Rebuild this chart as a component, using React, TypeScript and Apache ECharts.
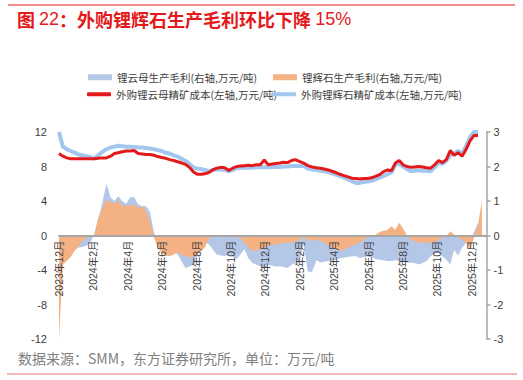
import React, { useEffect, useRef } from "react";
import * as echarts from "echarts";

// ---------- texts ----------
const TITLE_PREFIX = "图 ";
const TITLE_NUM = "22";
const TITLE_MAIN = "：外购锂辉石生产毛利环比下降 ";
const TITLE_PCT = "15%";
const SOURCE_TEXT = "数据来源：SMM，东方证券研究所，单位：万元/吨";

const NAME_LEPI_MARGIN = "锂云母生产毛利(右轴,万元/吨)";
const NAME_SPOD_MARGIN = "锂辉石生产毛利(右轴,万元/吨)";
const NAME_LEPI_COST = "外购锂云母精矿成本(左轴,万元/吨)";
const NAME_SPOD_COST = "外购锂辉石精矿成本(左轴,万元/吨)";

// ---------- axes ----------
const START_YEAR = 2023;
const START_MONTH = 12; // data starts 2023-12-01, weekly observations
const WEEK_COUNT = 108;
const X_MAX_MONTHS = 24.85;
const X_LABEL_STEP_MONTHS = 2;
const LEFT_MIN = -12, LEFT_MAX = 12, LEFT_STEP = 4;
const RIGHT_MIN = -3, RIGHT_MAX = 3, RIGHT_STEP = 1;

// ---------- series (万元/吨) ----------
// 外购锂辉石精矿成本 (left axis)
const spodumeneCost = [
  12.0, 10.3, 10.0, 9.8, 9.6, 9.4, 9.3, 9.2, 9.1, 8.9,
  9.3, 9.7, 10.0, 10.2, 10.3, 10.4, 10.35, 10.3, 10.3, 10.25,
  10.2, 10.2, 10.15, 10.1, 10.0, 9.9, 9.8, 9.6, 9.5, 9.3,
  9.15, 8.9, 8.65, 8.3, 7.9, 7.75, 7.7, 7.6, 7.45, 7.6,
  7.65, 7.65, 7.6, 7.45, 7.6, 7.8, 7.85, 7.85, 7.85, 7.85,
  7.9, 7.9, 7.9, 7.9, 7.95, 7.95, 7.95, 8.0, 8.0, 8.05,
  8.05, 8.05, 8.05, 7.75, 7.65, 7.6, 7.5, 7.45, 7.35, 7.2,
  7.05, 6.9, 6.7, 6.5, 6.3, 6.1, 6.1, 6.2, 6.25, 6.35,
  6.5, 6.7, 6.9, 7.1, 7.3, 8.2, 8.3, 8.0, 7.7, 7.45,
  7.5, 7.55, 7.5, 7.5, 7.45, 7.9, 8.45, 8.3, 8.7, 9.3,
  9.5, 9.8, 9.5, 10.4, 11.4, 12.0, 12.0,
];

// 外购锂云母精矿成本 (left axis)
const lepidoliteCost = [
  9.5, 9.2, 9.0, 8.9, 8.9, 8.9, 8.9, 8.9, 8.9, 8.9,
  8.95, 9.0, 9.0, 9.2, 9.5, 9.6, 9.7, 9.8, 9.8, 9.85,
  9.5, 9.45, 9.4, 9.4, 9.3, 9.15, 9.05, 8.95, 8.8, 8.7,
  8.55, 8.4, 8.25, 7.9, 7.4, 7.1, 7.1, 7.15, 7.3, 7.6,
  7.8, 7.9, 7.85, 7.55, 7.8, 8.0, 8.05, 8.1, 8.15, 8.1,
  8.2, 8.2, 8.75, 8.2, 8.3, 8.35, 8.4, 8.5, 8.45, 8.7,
  8.8, 8.6, 8.4, 8.1, 7.95, 7.85, 7.8, 7.7, 7.6, 7.45,
  7.3, 7.1, 6.95, 6.8, 6.65, 6.6, 6.55, 6.6, 6.6, 6.7,
  6.85, 7.05, 7.4, 7.6, 7.5, 8.4, 8.7, 8.2, 8.0, 7.9,
  7.95, 8.0, 7.95, 7.85, 7.8, 8.2, 8.7, 8.45, 8.8, 9.85,
  9.3, 9.6, 9.2, 10.0, 11.0, 11.6, 11.6,
];

// 锂辉石生产毛利 (right axis)
const spodumeneMargin = [
  -3.0, -0.85, -0.74, -0.62, -0.45, -0.3, -0.16, -0.08, -0.02, 0.0,
  0.5, 0.8, 1.03, 0.98, 0.92, 1.02, 0.85, 0.88, 0.86, 0.9,
  0.8, 0.85, 0.7, 0.42, -0.05, -0.35, -0.5, -0.58, -0.6, -0.55,
  -0.5, -0.55, -0.6, -0.64, -0.6, -0.55, -0.45, -0.35, -0.08, -0.04,
  -0.03, -0.04, -0.03, -0.05, -0.04, -0.05, -0.08, -0.2, -0.35, -0.45,
  -0.42, -0.4, -0.35, -0.3, -0.28, -0.26, -0.24, -0.22, -0.2, -0.2,
  -0.17, -0.16, -0.02, -0.15, -0.14, -0.12, -0.15, -0.22, -0.28, -0.34,
  -0.4, -0.45, -0.4, -0.35, -0.3, -0.25, -0.2, -0.12, -0.06, -0.03,
  0.02, 0.1, 0.14, 0.16, 0.27, 0.17, 0.37, 0.2, 0.0, -0.12,
  -0.17, -0.2, -0.21, -0.21, -0.2, -0.18, -0.13, -0.06, -0.02, 0.12,
  0.02, -0.05, -0.12, -0.21, -0.4, -0.05, 0.3, 1.0,
];

// 锂云母生产毛利 (right axis)
const lepidoliteMargin = [
  -1.2, -0.7, -0.6, -0.5, -0.42, -0.35, -0.33, -0.3, -0.22, 0.02,
  0.45, 0.95, 1.5, 1.1, 1.0, 1.14, 1.0, 0.92, 1.1, 1.12,
  0.9, 0.85, 0.85, 0.68, 0.1, -0.15, -0.3, -0.45, -0.5, -0.45,
  -0.55, -0.75, -0.94, -0.9, -0.85, -0.6, -0.4, -0.2, -0.25, -0.4,
  -0.55, -0.58, -0.6, -0.55, -0.6, -0.68, -0.55, -0.4, -0.65, -0.79,
  -0.85, -0.9, -0.97, -0.85, -0.88, -0.9, -0.89, -0.92, -0.94, -0.85,
  -0.8, -0.78, -0.25, -1.05, -1.05, -0.72, -0.78, -0.76, -0.74, -0.72,
  -0.7, -0.66, -0.64, -0.62, -0.6, -0.6, -0.65, -0.63, -0.6, -0.62,
  -0.68, -0.7, -0.72, -0.74, -0.74, -0.72, -0.74, -0.76, -0.78, -0.79,
  -0.8, -0.84, -0.8, -0.74, -0.6, -0.52, -0.5, -0.6, -0.7, -0.84,
  -0.42, -0.58, -0.35, -0.22, -0.12, 0.1, 0.37, 0.2,
];

// ---------- styles ----------
const RED = "#e3191b";
const LIGHT_BLUE = "#a3c6ee";
const AREA_BLUE = "#b4c7e7";
const AREA_ORANGE = "#f4b183";
const AXIS_GRAY = "#a6a6a6";
const TEXT = "#404040";
const CJK = "'Noto Sans CJK SC', sans-serif";
const LATIN = "'Liberation Sans', 'Noto Sans CJK SC', sans-serif";

const GRID_TOP = 132;
const GRID_BOTTOM = 41;
const CHART_H = 380;

// month position (months since 2023-12-01) of each weekly observation
const DAY_MS = 86400000;
const startMs = Date.UTC(START_YEAR, START_MONTH - 1, 1);
const weekPositions: number[] = [];
for (let i = 0; i < WEEK_COUNT; i++) {
  const d = new Date(startMs + i * 7 * DAY_MS);
  const y = d.getUTCFullYear();
  const m = d.getUTCMonth();
  const dim = new Date(Date.UTC(y, m + 1, 0)).getUTCDate();
  weekPositions.push((y - START_YEAR) * 12 + (m - (START_MONTH - 1)) + (d.getUTCDate() - 1) / dim);
}
const pair = (vals: number[]) => vals.map((v, i) => [weekPositions[i], v]);

const monthLabel = (v: number) => {
  const idx = START_MONTH - 1 + Math.round(v);
  const y = START_YEAR + Math.floor(idx / 12);
  const m = (idx % 12) + 1;
  return `${y}年${m}月`;
};

function buildOption(): any {
  const plotH = CHART_H - GRID_TOP - GRID_BOTTOM;
  // distance from grid bottom up to the zero line of the left axis
  const zeroOffset = (plotH * (0 - LEFT_MIN)) / (LEFT_MAX - LEFT_MIN);
  const legendBase = {
    padding: 0,
    itemWidth: 24,
    itemGap: 4,
    selectedMode: false,
    textStyle: { fontSize: 10.5, color: TEXT, fontFamily: CJK },
  };
  return {
    animation: false,
    title: {
      left: 17,
      top: 10,
      padding: 0,
      text: `{b|${TITLE_PREFIX}}{n|${TITLE_NUM}}{b|${TITLE_MAIN}}{n|${TITLE_PCT}}`,
      textStyle: {
        rich: {
          b: { fontSize: 18, fontWeight: "bold", color: RED, fontFamily: CJK },
          n: { fontSize: 18, fontWeight: "normal", color: RED, fontFamily: LATIN },
        },
      },
    },
    legend: [
      { ...legendBase, left: 88, top: 72, itemHeight: 6, icon: "rect",
        data: [{ name: NAME_LEPI_MARGIN, itemStyle: { color: AREA_BLUE } }] },
      { ...legendBase, left: 273, top: 72, itemHeight: 6, icon: "rect",
        data: [{ name: NAME_SPOD_MARGIN, itemStyle: { color: AREA_ORANGE } }] },
      { ...legendBase, left: 87, top: 89, itemHeight: 4, icon: "roundRect",
        data: [{ name: NAME_LEPI_COST, itemStyle: { color: RED } }] },
      { ...legendBase, left: 272, top: 89, itemHeight: 4, icon: "roundRect",
        data: [{ name: NAME_SPOD_COST, itemStyle: { color: LIGHT_BLUE } }] },
    ],
    grid: {
      left: 59,
      right: 36.5,
      top: GRID_TOP,
      bottom: GRID_BOTTOM,
      containLabel: false,
      outerBoundsMode: "none",
    },
    xAxis: {
      type: "value",
      z: 10,
      min: 0,
      max: X_MAX_MONTHS,
      interval: X_LABEL_STEP_MONTHS,
      offset: -zeroOffset,
      axisLine: { show: true, onZero: false, lineStyle: { color: AXIS_GRAY, width: 2 } },
      axisTick: { show: false },
      splitLine: { show: false },
      axisLabel: {
        rotate: 90,
        margin: 5,
        fontSize: 10.5,
        color: TEXT,
        fontFamily: LATIN,
        showMaxLabel: false,
        formatter: (v: number) => monthLabel(v),
      },
    },
    yAxis: [
      {
        type: "value",
        min: LEFT_MIN,
        max: LEFT_MAX,
        interval: LEFT_STEP,
        axisLine: { show: false },
        axisTick: { show: false },
        splitLine: { show: false },
        axisLabel: { margin: 12, fontSize: 11, color: TEXT, fontFamily: LATIN },
      },
      {
        type: "value",
        position: "right",
        min: RIGHT_MIN,
        max: RIGHT_MAX,
        interval: RIGHT_STEP,
        axisLine: { show: true, lineStyle: { color: AXIS_GRAY, width: 1.5 } },
        axisTick: { show: true, length: 4, lineStyle: { color: AXIS_GRAY, width: 1.5 } },
        splitLine: { show: false },
        axisLabel: { margin: 7, fontSize: 11, color: TEXT, fontFamily: LATIN },
      },
    ],
    series: [
      {
        name: NAME_LEPI_MARGIN,
        type: "line",
        yAxisIndex: 1,
        data: pair(lepidoliteMargin),
        showSymbol: false,
        symbol: "none",
        itemStyle: { color: AREA_BLUE },
        lineStyle: { width: 0, color: AREA_BLUE },
        areaStyle: { color: AREA_BLUE, opacity: 1 },
        z: 1,
      },
      {
        name: NAME_SPOD_MARGIN,
        type: "line",
        yAxisIndex: 1,
        data: pair(spodumeneMargin),
        showSymbol: false,
        symbol: "none",
        itemStyle: { color: AREA_ORANGE },
        lineStyle: { width: 0, color: AREA_ORANGE },
        areaStyle: { color: AREA_ORANGE, opacity: 1 },
        z: 2,
      },
      {
        name: NAME_SPOD_COST,
        type: "line",
        yAxisIndex: 0,
        data: pair(spodumeneCost),
        showSymbol: false,
        symbol: "none",
        itemStyle: { color: LIGHT_BLUE },
        lineStyle: { width: 4, color: LIGHT_BLUE },
        z: 3,
      },
      {
        name: NAME_LEPI_COST,
        type: "line",
        yAxisIndex: 0,
        data: pair(lepidoliteCost),
        showSymbol: false,
        symbol: "none",
        itemStyle: { color: RED },
        lineStyle: { width: 3, color: RED },
        z: 4,
      },
    ],
    graphic: [
      { type: "line", shape: { x1: 8, y1: 5, x2: 515, y2: 5 }, style: { stroke: RED, lineWidth: 1 } },
      { type: "line", shape: { x1: 7, y1: 374, x2: 517, y2: 374 }, style: { stroke: "#e87474", lineWidth: 1 } },
      {
        type: "text",
        x: 18,
        y: 358,
        style: {
          text: SOURCE_TEXT,
          fill: "#7f7f7f",
          font: `14px ${CJK}`,
          textVerticalAlign: "middle",
        },
      },
    ],
  };
}

export default function App() {
  const ref = useRef<HTMLDivElement>(null);
  useEffect(() => {
    if (!ref.current) return;
    const chart = echarts.init(ref.current, null, { renderer: "svg" });
    chart.setOption(buildOption());
    return () => chart.dispose();
  }, []);
  return (
    <div
      ref={ref}
      style={{ position: "absolute", left: 0, top: 0, width: 523, height: 380 }}
    />
  );
}
